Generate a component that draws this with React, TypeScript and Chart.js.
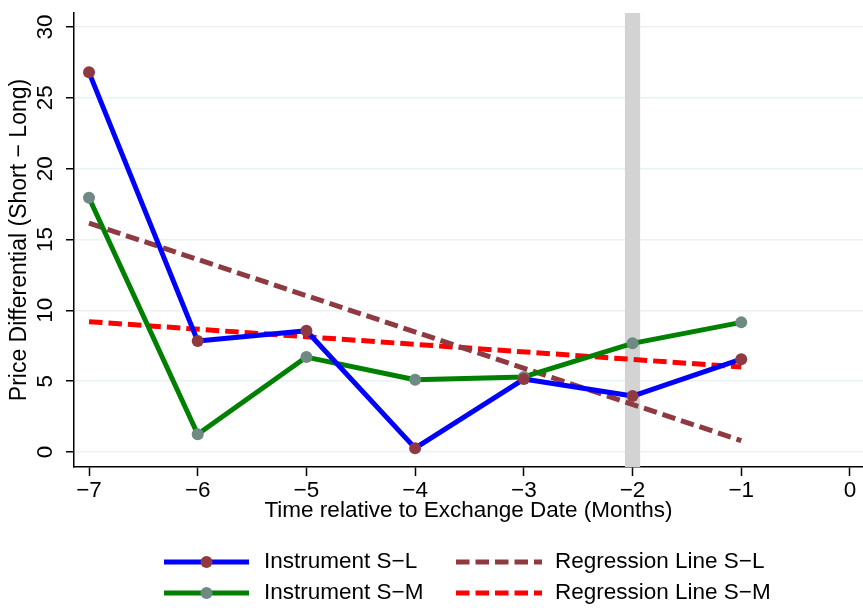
import React, { useEffect, useRef } from "react";
import { Chart, registerables } from "chart.js";

Chart.register(...registerables);

// values
const months = [-7, -6, -5, -4, -3, -2, -1];
const instrumentSL = [26.8, 7.83, 8.56, 0.27, 5.15, 3.95, 6.55];
const instrumentSM = [17.95, 1.25, 6.7, 5.1, 5.3, 7.67, 9.15];
const regressionX = [-7, -1];
const regressionSL = [16.15, 0.8];
const regressionSM = [9.2, 6.0];
const xTicks = [-7, -6, -5, -4, -3, -2, -1, 0];
const yTicks = [0, 5, 10, 15, 20, 25, 30];
const bandRange = [-2.07, -1.93];

const FONT = "'Liberation Sans', Arial, Helvetica, sans-serif";
const MINUS = "\u2212";
const TICK_SIZE = 22.5;
const TEXT_SIZE = 22.5;
const DASH = [13.5, 6];

const fmt = (v: number) => (v < 0 ? MINUS + Math.abs(v) : String(v));
const toPoints = (xs: number[], ys: number[]) => xs.map((x, i) => ({ x, y: ys[i] }));

// grey vertical band at the exchange month
const bandPlugin = {
  id: "band",
  beforeDatasetsDraw(chart: any) {
    const { ctx, chartArea, scales } = chart;
    const x0 = scales.x.getPixelForValue(bandRange[0]);
    const x1 = scales.x.getPixelForValue(bandRange[1]);
    ctx.save();
    ctx.fillStyle = "#d3d3d3";
    ctx.fillRect(x0, chartArea.top, x1 - x0, chartArea.bottom - chartArea.top);
    ctx.restore();
  },
};

// vertical (rotated) y tick labels like Stata
const yLabelPlugin = {
  id: "yLabels",
  afterDraw(chart: any) {
    const { ctx } = chart;
    const s = chart.scales.y;
    ctx.save();
    ctx.fillStyle = "#000";
    ctx.font = `${TICK_SIZE}px ${FONT}`;
    ctx.textAlign = "center";
    ctx.textBaseline = "middle";
    s.ticks.forEach((t: any) => {
      const py = s.getPixelForValue(t.value);
      ctx.save();
      ctx.translate(46, py);
      ctx.rotate(-Math.PI / 2);
      ctx.fillText(fmt(t.value), 0, 0);
      ctx.restore();
    });
    ctx.restore();
  },
};

// two-column legend under the plot
const legendPlugin = {
  id: "twoColLegend",
  afterDraw(chart: any) {
    const { ctx } = chart;
    const cols = [
      { x0: 164, x1: 249, tx: 264 },
      { x0: 456, x1: 542, tx: 555 },
    ];
    const rows = [562, 593];
    ctx.save();
    chart.data.datasets.forEach((ds: any, i: number) => {
      const c = cols[i < 2 ? 0 : 1];
      const y = rows[i % 2];
      ctx.strokeStyle = ds.borderColor;
      ctx.lineWidth = ds.borderWidth;
      ctx.setLineDash(ds.borderDash || []);
      ctx.beginPath();
      ctx.moveTo(c.x0, y);
      ctx.lineTo(c.x1, y);
      ctx.stroke();
      ctx.setLineDash([]);
      if (ds.pointRadius > 0) {
        ctx.fillStyle = ds.pointBackgroundColor;
        ctx.beginPath();
        ctx.arc((c.x0 + c.x1) / 2, y, ds.pointRadius, 0, Math.PI * 2);
        ctx.fill();
      }
      ctx.fillStyle = "#000";
      ctx.font = `${TEXT_SIZE}px ${FONT}`;
      ctx.textAlign = "left";
      ctx.textBaseline = "middle";
      ctx.fillText(ds.label, c.tx, y);
    });
    ctx.restore();
  },
};

const App = () => {
  const canvasRef = useRef<HTMLCanvasElement | null>(null);

  useEffect(() => {
    if (!canvasRef.current) return;
    const chart = new Chart(canvasRef.current, {
      type: "line",
      data: {
        datasets: [
          {
            label: `Instrument S${MINUS}L`,
            data: toPoints(months, instrumentSL),
            borderColor: "#0000ff",
            borderWidth: 5,
            borderJoinStyle: "round",
            pointRadius: 6,
            pointBorderWidth: 0,
            pointBackgroundColor: "#8f3a40",
            order: 1,
          },
          {
            label: `Instrument S${MINUS}M`,
            data: toPoints(months, instrumentSM),
            borderColor: "#008000",
            borderWidth: 5,
            borderJoinStyle: "round",
            pointRadius: 6,
            pointBorderWidth: 0,
            pointBackgroundColor: "#6e8a82",
            order: 2,
          },
          {
            label: `Regression Line S${MINUS}L`,
            data: toPoints(regressionX, regressionSL),
            borderColor: "#8f3a40",
            borderWidth: 5,
            borderDash: DASH,
            pointRadius: 0,
            order: 3,
          },
          {
            label: `Regression Line S${MINUS}M`,
            data: toPoints(regressionX, regressionSM),
            borderColor: "#ff0000",
            borderWidth: 5,
            borderDash: DASH,
            pointRadius: 0,
            order: 4,
          },
        ],
      },
      options: {
        responsive: true,
        maintainAspectRatio: false,
        animation: false,
        layout: { autoPadding: false, padding: { left: 0, right: 0, top: 13, bottom: 80 } },
        plugins: {
          legend: { display: false },
          tooltip: { enabled: false },
        },
        scales: {
          x: {
            type: "linear",
            min: -7.138,
            max: 0.12,
            afterBuildTicks: (s: any) => {
              s.ticks = xTicks.map((v) => ({ value: v }));
            },
            afterFit: (s: any) => {
              s.height = 61;
              s.paddingLeft = 0;
              s.paddingRight = 0;
            },
            grid: {
              drawOnChartArea: false,
              drawTicks: true,
              tickLength: 9,
              tickColor: "#000",
              tickWidth: 1.5,
            },
            border: { color: "#000", width: 1.5 },
            ticks: {
              color: "#000",
              font: { family: FONT, size: TICK_SIZE },
              padding: 1,
              autoSkip: false,
              maxRotation: 0,
              callback: (v: any) => fmt(Number(v)),
            },
            title: {
              display: true,
              text: "Time relative to Exchange Date (Months)",
              color: "#000",
              font: { family: FONT, size: TEXT_SIZE },
              padding: { top: 0, bottom: 4 },
            },
          },
          y: {
            min: -1.06,
            max: 30.99,
            afterBuildTicks: (s: any) => {
              s.ticks = yTicks.map((v) => ({ value: v }));
            },
            afterFit: (s: any) => {
              s.width = 74;
            },
            grid: {
              color: "#eaf2f3",
              lineWidth: 1.5,
              drawTicks: true,
              tickLength: 8,
              tickColor: "#000",
              tickWidth: 1.5,
            },
            border: { color: "#000", width: 1.5 },
            ticks: { display: false },
            title: {
              display: true,
              text: `Price Differential (Short ${MINUS} Long)`,
              color: "#000",
              font: { family: FONT, size: 23 },
              padding: { top: 6, bottom: 0 },
            },
          },
        },
      },
      plugins: [bandPlugin, yLabelPlugin, legendPlugin],
    } as any);

    return () => {
      chart.destroy();
    };
  }, []);

  return (
    <div style={{ position: "absolute", left: 0, top: 0, width: 863, height: 608, background: "#fff" }}>
      <canvas ref={canvasRef} />
    </div>
  );
};

export default App;
